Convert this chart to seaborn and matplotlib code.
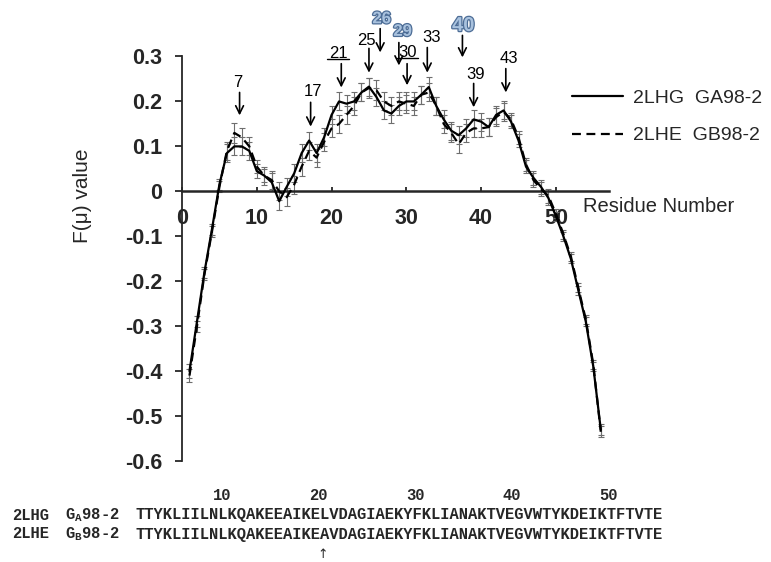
import pandas as pd
import matplotlib
matplotlib.use("Agg")
import matplotlib.pyplot as plt
import matplotlib.patheffects as pe
from matplotlib.lines import Line2D
import seaborn as sns

# F(mu) profile, residues 1-56
residues = list(range(1, 57))
ga98 = [-0.40, -0.29, -0.18, -0.085, 0.015, 0.085, 0.10, 0.10, 0.09, 0.045,
        0.035, 0.02, -0.022, 0.01, 0.04, 0.085, 0.113, 0.085, 0.12, 0.17,
        0.20, 0.195, 0.20, 0.22, 0.233, 0.21, 0.18, 0.173, 0.19, 0.20,
        0.20, 0.215, 0.232, 0.19, 0.16, 0.135, 0.125, 0.14, 0.16, 0.155,
        0.143, 0.17, 0.18, 0.155, 0.113, 0.055, 0.03, 0.01, -0.015, -0.055,
        -0.10, -0.15, -0.22, -0.29, -0.39, -0.53]
gb98 = [-0.41, -0.30, -0.185, -0.09, 0.01, 0.09, 0.13, 0.12, 0.10, 0.055,
        0.035, 0.025, 0.0, -0.013, 0.015, 0.055, 0.09, 0.075, 0.11, 0.14,
        0.15, 0.17, 0.19, 0.22, 0.23, 0.225, 0.20, 0.19, 0.20, 0.195,
        0.19, 0.215, 0.22, 0.19, 0.15, 0.13, 0.105, 0.13, 0.14, 0.14,
        0.143, 0.165, 0.177, 0.16, 0.12, 0.06, 0.025, 0.005, -0.01, -0.05,
        -0.095, -0.145, -0.215, -0.285, -0.385, -0.535]
ga98_err = [0.015, 0.012, 0.012, 0.012, 0.012, 0.02, 0.02, 0.02, 0.02, 0.015,
            0.015, 0.02, 0.02, 0.02, 0.02, 0.02, 0.02, 0.02, 0.02, 0.02,
            0.02, 0.02, 0.02, 0.02, 0.02, 0.02, 0.02, 0.02, 0.02, 0.02,
            0.02, 0.02, 0.022, 0.02, 0.02, 0.02, 0.02, 0.02, 0.02, 0.02,
            0.02, 0.02, 0.02, 0.015, 0.015, 0.015, 0.015, 0.015, 0.015, 0.01,
            0.01, 0.01, 0.01, 0.01, 0.01, 0.012]
gb98_err = [0.015, 0.012, 0.012, 0.012, 0.012, 0.02, 0.022, 0.022, 0.02, 0.015,
            0.02, 0.02, 0.02, 0.02, 0.02, 0.02, 0.02, 0.02, 0.02, 0.02,
            0.02, 0.02, 0.02, 0.02, 0.022, 0.022, 0.02, 0.02, 0.02, 0.02,
            0.02, 0.02, 0.02, 0.02, 0.02, 0.02, 0.02, 0.02, 0.02, 0.02,
            0.02, 0.02, 0.02, 0.015, 0.015, 0.015, 0.015, 0.015, 0.015, 0.01,
            0.01, 0.01, 0.01, 0.01, 0.01, 0.012]
series_names = ["2LHG  GA98-2", "2LHE  GB98-2"]

xticks = [0, 10, 20, 30, 40, 50]
yticks = [0.3, 0.2, 0.1, 0, -0.1, -0.2, -0.3, -0.4, -0.5, -0.6]
ytick_labels = ["0.3", "0.2", "0.1", "0", "-0.1", "-0.2", "-0.3", "-0.4", "-0.5", "-0.6"]

# arrow labels over the profile
marks = ["7", "17", "21", "25", "26", "29", "30", "33", "40", "39", "43"]
blue_marks = ["26", "29", "40"]
underlined = ["21", "30"]

# sequence alignment under the plot
seq_names = ["2LHG", "2LHE"]
seq_tags = [r"G$_{\mathdefault{A}}$98-2", r"G$_{\mathdefault{B}}$98-2"]
seqs = ["TTYKLIILNLKQAKEEAIKELVDAGIAEKYFKLIANAKTVEGVWTYKDEIKTFTVTE",
        "TTYKLIILNLKQAKEEAIKEAVDAGIAEKYFKLIANAKTVEGVWTYKDEIKTFTVTE"]
seq_ruler = ["10", "20", "30", "40", "50"]

# layout (data coords for the arrows, pixels for figure text)
mark_text_xy = [(7.5, 0.242), (17.5, 0.222), (20.9, 0.307), (24.7, 0.336), (26.7, 0.384),
                (29.5, 0.356), (30.2, 0.309), (33.4, 0.342), (37.6, 0.369), (39.3, 0.26),
                (43.7, 0.296)]
mark_arrow = [(7.7, 0.22, 0.169), (17.2, 0.198, 0.144), (21.3, 0.284, 0.231),
              (25.0, 0.318, 0.264), (26.5, 0.362, 0.309), (29.0, 0.331, 0.28),
              (30.1, 0.284, 0.236), (32.8, 0.32, 0.264), (37.5, 0.347, 0.298),
              (39.0, 0.24, 0.187), (43.3, 0.273, 0.22)]
ruler_x = [222, 318, 416, 512, 608]

W, H = 771, 562


def px(x, y):
    return x / W, 1 - y / H


sns.set_style("ticks")
plt.rcParams["font.family"] = ["Liberation Sans", "DejaVu Sans"]
plt.rcParams["axes.unicode_minus"] = False

fig = plt.figure(figsize=(W / 100, H / 100), dpi=100)
ax = fig.add_axes([182 / W, (H - 461) / H, (609 - 182) / W, (461 - 56.5) / H])

df = pd.DataFrame({
    "residue": residues * 2,
    "value": ga98 + gb98,
    "protein": [series_names[0]] * len(residues) + [series_names[1]] * len(residues),
})

ax.errorbar(residues, ga98, yerr=ga98_err, fmt="none", ecolor="#6e6e6e",
            elinewidth=0.8, capsize=2.2, capthick=0.8, zorder=1)
ax.errorbar(residues, gb98, yerr=gb98_err, fmt="none", ecolor="#6e6e6e",
            elinewidth=0.8, capsize=2.2, capthick=0.8, zorder=1)
sns.lineplot(data=df, x="residue", y="value", style="protein",
             dashes={series_names[0]: "", series_names[1]: (4, 2.5)},
             color="black", lw=1.6, errorbar=None, legend=False, ax=ax, zorder=3)

ax.set_xlim(0, 57.1)
ax.set_ylim(-0.6, 0.3)
ax.set_xlabel("")
ax.set_ylabel("")
ax.spines["top"].set_visible(False)
ax.spines["right"].set_visible(False)
ax.spines["bottom"].set_position(("data", 0))
ax.spines["bottom"].set_linewidth(1.8)
ax.spines["left"].set_linewidth(1.3)
ax.set_xticks(xticks)
ax.set_xticklabels([str(t) for t in xticks], fontsize=15.5, fontweight="bold")
ax.set_yticks(yticks)
ax.set_yticklabels(ytick_labels, fontsize=15.5, fontweight="bold")
ax.tick_params(axis="x", direction="in", length=3, width=1.3, pad=12)
ax.tick_params(axis="y", direction="out", length=5, width=1.3, pad=9)

# arrows and their labels
texts = {}
for lab, (tx, ty), (axx, y0, y1) in zip(marks, mark_text_xy, mark_arrow):
    ax.annotate("", xy=(axx, y1), xytext=(axx, y0), annotation_clip=False,
                arrowprops=dict(arrowstyle="->", color="black", lw=1.2,
                                shrinkA=0, shrinkB=0, mutation_scale=14))
    if lab in blue_marks:
        t = ax.text(tx, ty, lab, ha="center", va="center", fontweight="bold",
                    fontsize=14.5 if lab == "40" else 12, color="#a9c2de",
                    path_effects=[pe.withStroke(linewidth=1.8, foreground="#4d6d96")])
    else:
        t = ax.text(tx, ty, lab, ha="center", va="center", fontsize=12, color="black")
    texts[lab] = t

legend_handles = [Line2D([], [], color="black", lw=1.6),
                  Line2D([], [], color="black", lw=1.6, dashes=(4, 2.5))]
fig.legend(legend_handles, series_names, loc="center left", bbox_to_anchor=px(572, 117),
           frameon=False, fontsize=14, handlelength=2.6, handletextpad=0.55,
           labelspacing=1.0, borderpad=0, borderaxespad=0)

fig.text(*px(583, 206), "Residue Number", fontsize=14.5, ha="left", va="center")
fig.text(*px(83, 195.5), "F(\u03bc) value", fontsize=15, rotation=90, ha="center", va="center")

mono = dict(family="Liberation Mono", fontweight="bold", fontsize=11.2, va="center")
for lab, x in zip(seq_ruler, ruler_x):
    fig.text(*px(x, 496), lab, ha="center", **mono)
for i, (name, tag, seq) in enumerate(zip(seq_names, seq_tags, seqs)):
    y = 515 + 19 * i
    fig.text(*px(12, y), name, ha="left", **mono)
    fig.text(*px(65, y), tag, ha="left", **mono)
    fig.text(*px(135, y), seq, ha="left", **mono)
fig.text(*px(323, 555), "\u2191", ha="center", va="center", fontsize=9, family="DejaVu Sans")

# underline the two labels
fig.canvas.draw()
inv = fig.transFigure.inverted()
for lab in underlined:
    bb = texts[lab].get_window_extent()
    (x0, y0), (x1, _) = inv.transform([(bb.x0 - 2, bb.y0 + 2), (bb.x1 + 1, bb.y0 + 2)])
    fig.add_artist(Line2D([x0, x1], [y0, y0], transform=fig.transFigure, color="black", lw=1))

fig.savefig("out.png", dpi=100)
